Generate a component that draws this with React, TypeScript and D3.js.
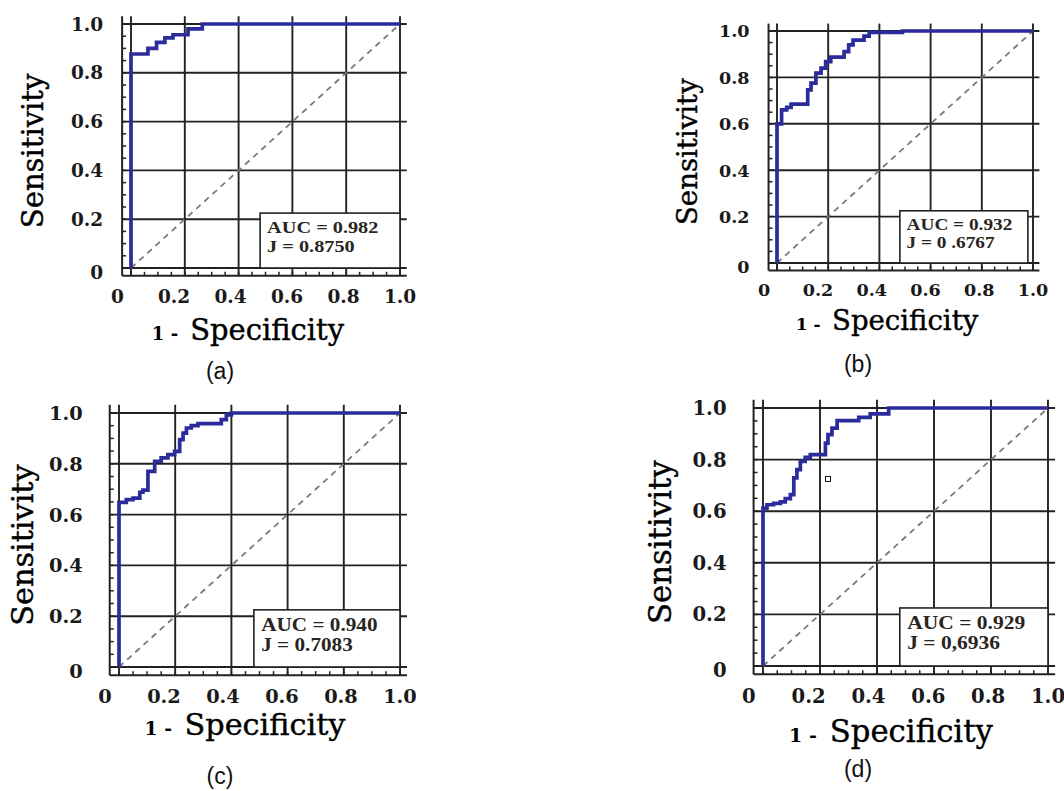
import React from 'react';
import * as d3 from 'd3';

// axis ticks
const tickValues = [0, 0.2, 0.4, 0.6, 0.8, 1.0];
const tickLabels = ['0', '0.2', '0.4', '0.6', '0.8', '1.0'];
const minorStep = 0.05;

// ROC operating points [1 - specificity, sensitivity]
const rocA: [number, number][] = [
  [0, 0], [0, 0.877], [0.063, 0.9], [0.095, 0.925], [0.126, 0.943],
  [0.156, 0.956], [0.212, 0.98], [0.265, 1.0], [1, 1],
];
const rocB: [number, number][] = [
  [0, 0], [0, 0.6], [0.018, 0.66], [0.038, 0.671], [0.055, 0.685],
  [0.12, 0.746], [0.133, 0.775], [0.152, 0.818], [0.172, 0.84], [0.19, 0.868],
  [0.21, 0.887], [0.262, 0.911], [0.28, 0.94], [0.297, 0.961], [0.34, 0.978],
  [0.36, 0.994], [0.49, 1.0], [1, 1],
];
const rocC: [number, number][] = [
  [0, 0], [0, 0.648], [0.026, 0.659], [0.05, 0.665], [0.074, 0.688],
  [0.085, 0.696], [0.103, 0.77], [0.127, 0.81], [0.15, 0.823], [0.174, 0.836],
  [0.198, 0.849], [0.216, 0.895], [0.228, 0.921], [0.24, 0.941], [0.257, 0.95],
  [0.281, 0.958], [0.364, 0.974], [0.382, 0.993], [0.4, 1.0], [1, 1],
];
const rocD: [number, number][] = [
  [0, 0], [0, 0.612], [0.014, 0.625], [0.037, 0.63], [0.061, 0.636],
  [0.078, 0.649], [0.096, 0.664], [0.108, 0.729], [0.119, 0.761], [0.131, 0.793],
  [0.148, 0.809], [0.166, 0.819], [0.219, 0.864], [0.228, 0.897], [0.242, 0.922],
  [0.26, 0.951], [0.336, 0.964], [0.376, 0.977], [0.441, 1.0], [1, 1],
];

const captions = ['(a)', '(b)', '(c)', '(d)'];
const aucLabels = ['AUC = 0.982', 'AUC = 0.932', 'AUC = 0.940', 'AUC = 0.929'];
const jLabels = ['J = 0.8750', 'J = 0 .6767', 'J = 0.7083', 'J = 0,6936'];
const stray: [number, number][][] = [[], [], [], [[0.228, 0.725]]];

// pixel placement of each panel (grid 0 and 1 lines)
const layouts = [
  { x0: 131, x1: 400, y0: 268, y1: 24, k: 1.0, yTitleX: 43, xTitleY: 340, xTitleX: 248, capX: 220, capY: 379, gap: 19, boxR: 1.0 },
  { x0: 777, x1: 1033, y0: 263, y1: 31, k: 0.95, yTitleX: 697, xTitleY: 330, xTitleX: 887, capX: 858, capY: 372, gap: 19, boxR: 0.98 },
  { x0: 119, x1: 400, y0: 667, y1: 413, k: 1.045, yTitleX: 33, xTitleY: 735, xTitleX: 245, capX: 220, capY: 784, gap: 27, boxR: 1.0 },
  { x0: 763, x1: 1048, y0: 666, y1: 408, k: 1.06, yTitleX: 671, xTitleY: 742, xTitleX: 891, capX: 858, capY: 777, gap: 27, boxR: 1.0 },
];

const GRID = '#222';
const CURVE = '#2b2b9c';
const serif = '"DejaVu Serif", serif';

function RocPanel({ lay, roc, auc, j, caption, marks }: any) {
  const x = d3.scaleLinear().domain([0, 1]).range([lay.x0, lay.x1]);
  const y = d3.scaleLinear().domain([0, 1]).range([lay.y0, lay.y1]);
  const xl = d3.scaleLinear().domain([0, 1]).range([x(-0.05), x(1.0)]);
  const k = lay.k;
  const left = x(-0.033), right = x(1.025);
  const bottom = y(-0.032), top = y(1.032);
  const minors = d3.range(0, 1 + 1e-6, minorStep);

  const line = d3.line<[number, number]>()
    .x(d => x(d[0]))
    .y(d => y(d[1]))
    .curve(d3.curveStepAfter);

  const boxTop = y(0.225);
  const boxL = x(0.48);

  return (
    <g>
      {/* grid */}
      {tickValues.map(v => (
        <line key={'v' + v} x1={x(v)} x2={x(v)} y1={bottom} y2={top} stroke={GRID} strokeWidth={1.9} />
      ))}
      {tickValues.map(v => (
        <line key={'h' + v} x1={left} x2={right} y1={y(v)} y2={y(v)} stroke={GRID} strokeWidth={1.9} />
      ))}
      <line x1={left} x2={left} y1={bottom} y2={top} stroke={GRID} strokeWidth={2} />
      <line x1={left} x2={right} y1={bottom} y2={bottom} stroke={GRID} strokeWidth={2} />
      {minors.map(v => (
        <g key={'m' + v}>
          <line x1={left} x2={left + 4} y1={y(v)} y2={y(v)} stroke={GRID} strokeWidth={1.5} />
          <line x1={x(v)} x2={x(v)} y1={bottom} y2={bottom - 4} stroke={GRID} strokeWidth={1.5} />
        </g>
      ))}

      {/* chance line */}
      <line x1={x(0)} y1={y(0)} x2={x(1)} y2={y(1)} stroke="#7a7a7a" strokeWidth={1.8} strokeDasharray="6,5" />

      {/* legend box */}
      <rect x={boxL} y={boxTop} width={x(lay.boxR) - boxL} height={y(0) - boxTop}
        fill="#fff" stroke={GRID} strokeWidth={1.6} />
      <g transform={`translate(${boxL + 7 * k},0) scale(1.16,1)`}
        fontFamily='"Liberation Serif", serif' fontWeight="bold" fontSize={17.5 * k} fill="#2a2520">
        <text x={0} y={boxTop + 20 * k}>{auc}</text>
        <text x={0} y={boxTop + 39 * k}>{j}</text>
      </g>

      {/* ROC curve */}
      <path d={line(roc) || ''} fill="none" stroke={CURVE} strokeWidth={3.7} strokeLinejoin="miter" />

      {marks.map((m: [number, number], i: number) => (
        <rect key={i} x={x(m[0]) - 2.5} y={y(m[1]) - 2.5} width={5} height={5} fill="#fff" stroke="#111" strokeWidth={1} />
      ))}

      {/* tick labels */}
      {tickValues.map((v, i) => (
        <text key={'xl' + v} x={xl(v)} y={bottom + 27 * k} textAnchor="middle" fontFamily={serif}
          fontWeight="bold" fontSize={18.5 * k} fill="#1a1a1a">{tickLabels[i]}</text>
      ))}
      {tickValues.map((v, i) => (
        <text key={'yl' + v} x={left - lay.gap} y={y(v) + (v === 0 ? 4 : 0)} dy="0.36em" textAnchor="end" fontFamily={serif}
          fontWeight="bold" fontSize={18.5 * k} fill="#1a1a1a">{tickLabels[i]}</text>
      ))}

      {/* axis titles */}
      <text transform={`translate(${lay.yTitleX},${y(0.48)}) rotate(-90)`} textAnchor="middle"
        fontFamily={serif} fontSize={29 * k} fill="#000" stroke="#000" strokeWidth={0.4}>Sensitivity</text>
      <text x={lay.xTitleX} y={lay.xTitleY} textAnchor="middle" fontFamily={serif} fill="#000">
        <tspan fontSize={18 * k} fontWeight="bold">1 -</tspan>
        <tspan fontSize={29 * k} dx={12 * k} stroke="#000" strokeWidth={0.4}>Specificity</tspan>
      </text>

      <text x={lay.capX} y={lay.capY} textAnchor="middle" fontFamily='"Liberation Sans", Arial, sans-serif'
        fontSize={23} fill="#111">{caption}</text>
    </g>
  );
}

export default function App() {
  const rocs = [rocA, rocB, rocC, rocD];
  return (
    <svg width={1064} height={791} style={{ position: 'absolute', left: 0, top: 0, background: '#fff' }}>
      <rect width={1064} height={791} fill="#fff" />
      {layouts.map((lay, i) => (
        <RocPanel key={i} lay={lay} roc={rocs[i]} auc={aucLabels[i]} j={jLabels[i]}
          caption={captions[i]} marks={stray[i]} />
      ))}
    </svg>
  );
}
